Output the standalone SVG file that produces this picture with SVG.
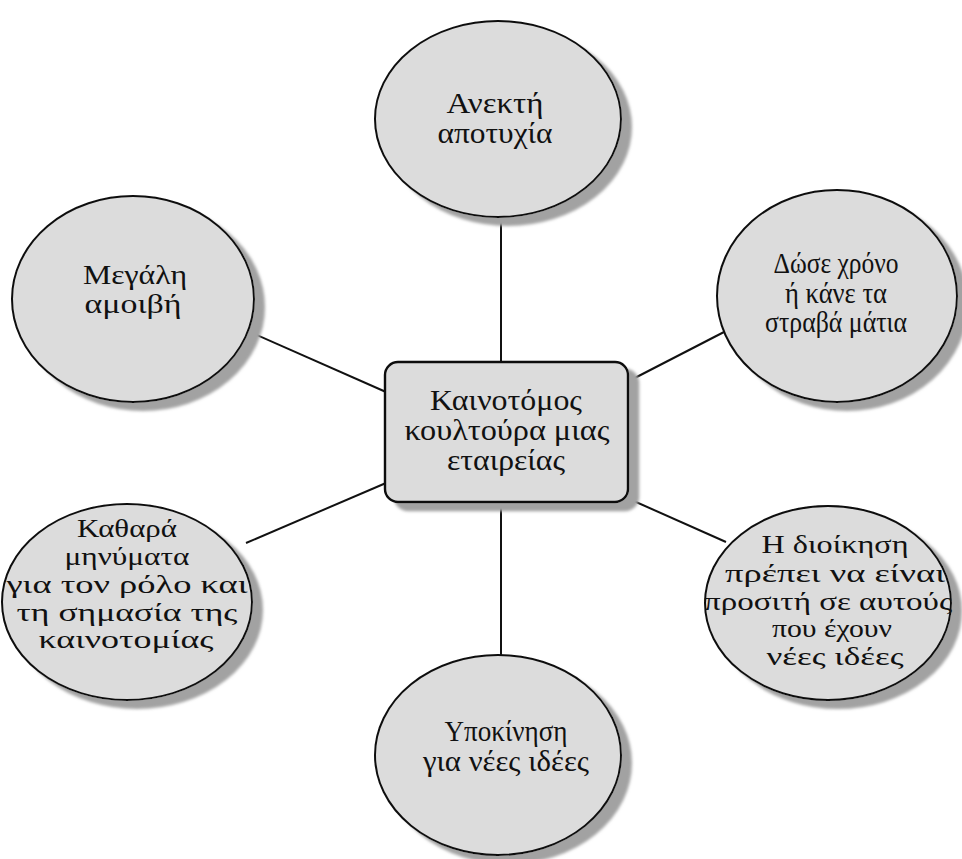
<svg xmlns="http://www.w3.org/2000/svg" width="962" height="859" viewBox="0 0 962 859">
  <defs>
    <filter id="shadow" x="-10%" y="-10%" width="130%" height="130%">
      <feGaussianBlur in="SourceAlpha" stdDeviation="1.5" result="b"/>
      <feOffset in="b" dx="10" dy="8" result="o"/>
      <feFlood flood-color="#a2a2a2"/>
      <feComposite in2="o" operator="in" result="s"/>
      <feMerge>
        <feMergeNode in="s"/>
        <feMergeNode in="SourceGraphic"/>
      </feMerge>
    </filter>
  </defs>
  <style>
    .bubble { fill: #dcdcdc; stroke: #111; stroke-width: 2; filter: url(#shadow); }
    .hub { fill: #dcdcdc; stroke: #111; stroke-width: 2.4; filter: url(#shadow); }
    .link { stroke: #111; stroke-width: 2; fill: none; }
    .label { font-family: "Liberation Serif", "DejaVu Serif", serif; font-size: 29px; fill: #111; text-anchor: middle; }
    .mid { font-size: 28px; }
    .small { font-size: 26px; }
  </style>
  <rect width="962" height="859" fill="#ffffff"/>

  <g id="connectors">
    <line class="link" x1="501" y1="210" x2="501" y2="362"/>
    <line class="link" x1="501" y1="502" x2="501" y2="660"/>
    <line class="link" x1="250" y1="332" x2="386" y2="392"/>
    <line class="link" x1="627" y1="382" x2="724" y2="332"/>
    <line class="link" x1="246" y1="543" x2="386" y2="483"/>
    <line class="link" x1="627" y1="498" x2="726" y2="542"/>
  </g>

  <g id="hub">
    <rect class="hub" x="385" y="362" width="243" height="140" rx="13"/>
    <text class="label" x="506" y="410" textLength="152" lengthAdjust="spacingAndGlyphs">Καινοτόμος</text>
    <text class="label" x="507" y="440" textLength="205" lengthAdjust="spacingAndGlyphs">κουλτούρα μιας</text>
    <text class="label" x="506" y="470" textLength="118" lengthAdjust="spacingAndGlyphs">εταιρείας</text>
  </g>

  <g id="failure">
    <ellipse class="bubble" cx="498" cy="119" rx="123" ry="98"/>
    <text class="label" x="495" y="113" textLength="97" lengthAdjust="spacingAndGlyphs">Ανεκτή</text>
    <text class="label" x="495" y="143" textLength="115" lengthAdjust="spacingAndGlyphs">αποτυχία</text>
  </g>

  <g id="reward">
    <ellipse class="bubble" cx="133" cy="299" rx="121" ry="103"/>
    <text class="label mid" x="135" y="284" textLength="104" lengthAdjust="spacingAndGlyphs">Μεγάλη</text>
    <text class="label mid" x="133" y="313" textLength="97" lengthAdjust="spacingAndGlyphs">αμοιβή</text>
  </g>

  <g id="time">
    <ellipse class="bubble" cx="837" cy="296" rx="120" ry="106"/>
    <text class="label" x="836" y="273" textLength="125" lengthAdjust="spacingAndGlyphs">Δώσε χρόνο</text>
    <text class="label" x="836" y="303" textLength="102" lengthAdjust="spacingAndGlyphs">ή κάνε τα</text>
    <text class="label" x="836" y="332" textLength="142" lengthAdjust="spacingAndGlyphs">στραβά μάτια</text>
  </g>

  <g id="messages">
    <ellipse class="bubble" cx="127" cy="602" rx="125" ry="98"/>
    <text class="label small" x="127" y="537" textLength="100" lengthAdjust="spacingAndGlyphs">Καθαρά</text>
    <text class="label small" x="127" y="565" textLength="125" lengthAdjust="spacingAndGlyphs">μηνύματα</text>
    <text class="label small" x="127" y="593" textLength="241" lengthAdjust="spacingAndGlyphs">για τον ρόλο και</text>
    <text class="label small" x="127" y="621" textLength="221" lengthAdjust="spacingAndGlyphs">τη σημασία της</text>
    <text class="label small" x="126" y="648" textLength="175" lengthAdjust="spacingAndGlyphs">καινοτομίας</text>
  </g>

  <g id="management">
    <ellipse class="bubble" cx="828" cy="603" rx="123" ry="97"/>
    <text class="label small" x="835" y="553" textLength="147" lengthAdjust="spacingAndGlyphs">Η διοίκηση</text>
    <text class="label small" x="835" y="582" textLength="220" lengthAdjust="spacingAndGlyphs">πρέπει να είναι</text>
    <text class="label small" x="828" y="610" textLength="248" lengthAdjust="spacingAndGlyphs">προσιτή σε αυτούς</text>
    <text class="label small" x="832" y="637" textLength="120" lengthAdjust="spacingAndGlyphs">που έχουν</text>
    <text class="label small" x="835" y="665" textLength="137" lengthAdjust="spacingAndGlyphs">νέες ιδέες</text>
  </g>

  <g id="motivation">
    <ellipse class="bubble" cx="498" cy="755" rx="123" ry="100"/>
    <text class="label" x="506" y="741" textLength="123" lengthAdjust="spacingAndGlyphs">Υποκίνηση</text>
    <text class="label" x="506" y="771" textLength="166" lengthAdjust="spacingAndGlyphs">για νέες ιδέες</text>
  </g>
</svg>
